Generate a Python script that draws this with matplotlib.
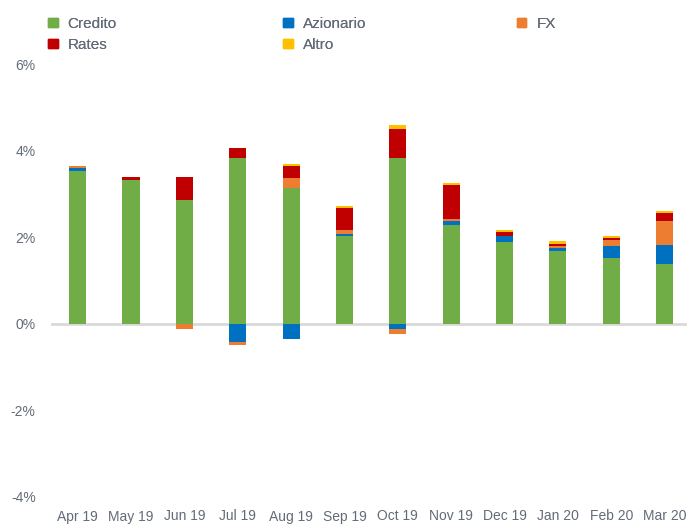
import numpy as np
import matplotlib.pyplot as plt
from matplotlib.patches import Patch

plt.rcParams['font.family'] = ['Liberation Sans', 'DejaVu Sans']

# dati (in %)
months = ['Apr 19', 'May 19', 'Jun 19', 'Jul 19', 'Aug 19', 'Sep 19',
          'Oct 19', 'Nov 19', 'Dec 19', 'Jan 20', 'Feb 20', 'Mar 20']
credito = [3.54, 3.31, 2.85, 3.82, 3.13, 2.02, 3.82, 2.29, 1.88, 1.69, 1.51, 1.37]
azionario = [0.05, 0.0, 0.0, -0.43, -0.34, 0.05, -0.12, 0.09, 0.14, 0.05, 0.28, 0.46]
fx = [0.05, 0.0, -0.11, -0.05, 0.23, 0.09, -0.12, 0.05, 0.0, 0.05, 0.14, 0.55]
rates = [0.0, 0.09, 0.55, 0.23, 0.28, 0.51, 0.69, 0.78, 0.09, 0.05, 0.05, 0.18]
altro = [0.0, 0.0, 0.0, 0.0, 0.05, 0.05, 0.07, 0.05, 0.05, 0.07, 0.05, 0.05]

series = [('Credito', credito, '#70AD47'),
          ('Azionario', azionario, '#0070C0'),
          ('FX', fx, '#ED7D31'),
          ('Rates', rates, '#C00000'),
          ('Altro', altro, '#FFC000')]
txt_col = '#636b78'

fig = plt.figure(figsize=(6.87, 5.24), dpi=100)
ax = fig.add_axes([51 / 687, 27 / 524, 1 - 51 / 687, 433 / 524])

x = np.arange(len(months))
pos_base = np.zeros(len(months))
neg_base = np.zeros(len(months))
for name, vals, col in series:
    v = np.array(vals)
    pos = np.where(v > 0, v, 0)
    neg = np.where(v < 0, v, 0)
    ax.bar(x, pos, 0.32, bottom=pos_base, color=col, zorder=3)
    ax.bar(x, neg, 0.32, bottom=neg_base, color=col, zorder=3)
    pos_base += pos
    neg_base += neg

ax.axhline(0, color='#d9d9d9', lw=2, zorder=2)
ax.set_xlim(-0.5, 11.42)
ax.set_ylim(-4, 6)
ax.set_yticks([-4, -2, 0, 2, 4, 6])
ax.set_yticklabels(['-4%', '-2%', '0%', '2%', '4%', '6%'])
ax.set_xticks(x)
ax.set_xticklabels(months)
ax.tick_params(length=0, labelsize=10, colors=txt_col)
ax.tick_params(axis='y', pad=11)
ax.tick_params(axis='x', pad=9)
for s in ax.spines.values():
    s.set_visible(False)

# legenda in tre colonne
groups = [(0.0505, ['Credito', 'Rates']), (0.3926, ['Azionario', 'Altro']), (0.733, ['FX'])]
colors = {n: c for n, _, c in series}
for xpos, names in groups:
    handles = [Patch(color=colors[n], label=n) for n in names]
    leg = fig.legend(handles=handles, loc='upper left', bbox_to_anchor=(xpos, 0.994),
                     frameon=False, fontsize=11, handlelength=0.6, handleheight=0.6,
                     handletextpad=0.65, labelspacing=0.45, labelcolor=txt_col)
    fig.add_artist(leg)

fig.savefig('out.png', dpi=100)
